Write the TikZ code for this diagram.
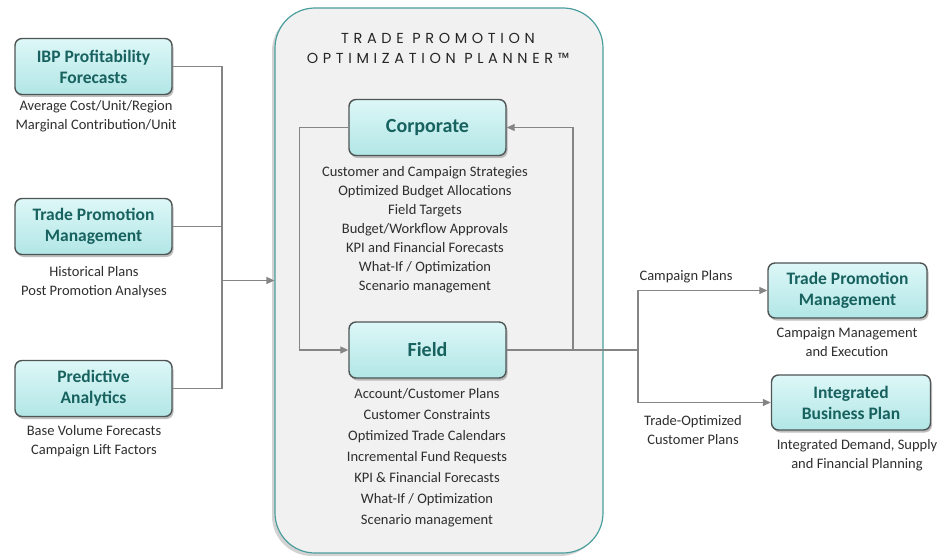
\documentclass[tikz,border=0pt]{standalone}
\usepackage{fontspec}
\setmainfont{Carlito}
\newfontfamily\titlefont[LetterSpace=32]{Poppins}
\usetikzlibrary{shadows,arrows.meta}
\definecolor{linegray}{HTML}{858585}
\definecolor{boxedge}{HTML}{4F5555}
\definecolor{boxtop}{HTML}{DDF7F7}
\definecolor{boxbot}{HTML}{B2E6E6}
\definecolor{boxtext}{HTML}{17625F}
\definecolor{captext}{HTML}{2E2E2E}
\definecolor{panelfill}{HTML}{F1F1F1}
\definecolor{panelline}{HTML}{4A9E9E}
\begin{document}
\begin{tikzpicture}[x=1pt,y=-1pt,
  conn/.style={draw=linegray, line width=1.3pt},
  arr/.style={-{Triangle[length=8pt,width=7pt]}},
  sysbox/.style={rounded corners=7pt, draw=boxedge, line width=1.4pt,
    top color=boxtop, bottom color=boxbot,
    minimum width=157pt, minimum height=56pt, align=center, inner sep=0pt,
    text=boxtext, font=\fontsize{17.5}{21}\selectfont\bfseries,
    drop shadow={shadow xshift=1.5pt, shadow yshift=-2.5pt, opacity=0.5}},
  corebox/.style={sysbox, font=\fontsize{20}{24}\selectfont\bfseries},
  caption/.style={align=center, inner sep=0pt, text=captext,
    font=\fontsize{14.5}{19}\selectfont},
  panelbox/.style={rounded corners=40pt, fill=panelfill, draw=panelline,
    line width=1.2pt, minimum width=328pt, minimum height=545pt,
    drop shadow={shadow xshift=-3pt, shadow yshift=-3pt, opacity=0.35}}
]
\useasboundingbox (0,0) rectangle (940,559);

% central planner panel
\node[panelbox] (panel) at (439,280.5) {};
\node[align=center, inner sep=0pt, font=\titlefont\fontsize{14.5}{20}\selectfont, text=black!85]
  (title) at (438,48) {TRADE PROMOTION\\OPTIMIZATION PLANNER™};

% junction points
\coordinate (jl) at (222,280.5);
\coordinate (jr) at (573,350);
\coordinate (jo) at (638,350);

% input systems
\node[sysbox] (ibp) at (93.5,66.5) {IBP Profitability\\Forecasts};
\node[sysbox] (tpm) at (93.5,226.5) {Trade Promotion\\Management};
\node[sysbox] (pa)  at (93.5,388.5) {Predictive\\Analytics};

\node[caption] (ibpc) at (96,116.5) {Average Cost/Unit/Region\\Marginal Contribution/Unit};
\node[caption] (tpmc) at (94,282.5) {Historical Plans\\Post Promotion Analyses};
\node[caption] (pac)  at (94,441) {Base Volume Forecasts\\Campaign Lift Factors};

% planner levels
\node[corebox] (corp)  at (427.5,127.5) {Corporate};
\node[corebox] (field) at (427.5,350) {Field};

\node[caption] (corpc) at (425,230) {Customer and Campaign Strategies\\Optimized Budget Allocations\\Field Targets\\Budget/Workflow Approvals\\KPI and Financial Forecasts\\What-If / Optimization\\Scenario management};
\node[caption, font=\fontsize{14.5}{21}\selectfont] (fieldc) at (427,458) {Account/Customer Plans\\Customer Constraints\\Optimized Trade Calendars\\Incremental Fund Requests\\KPI \& Financial Forecasts\\What-If / Optimization\\Scenario management};

% output systems
\node[sysbox, minimum width=159pt, minimum height=55pt] (rtpm) at (847.5,290.5) {Trade Promotion\\Management};
\node[sysbox, minimum width=159pt, minimum height=55pt] (ribp) at (851,402.5) {Integrated\\Business Plan};

\node[caption] (rtpmc) at (847,342) {Campaign Management\\and Execution};
\node[caption] (ribpc) at (857,455) {Integrated Demand, Supply\\and Financial Planning};

\node[caption] (cplab) at (686,277) {Campaign Plans};
\node[caption] (toplab) at (693,430) {Trade-Optimized\\Customer Plans};

% inputs feeding the planner
\draw[conn] (ibp.east) -| (jl) |- (pa.east);
\draw[conn] (tpm.east) -- (tpm.east -| jl);
\draw[conn,arr] (jl) -- (panel.west);

% corporate / field loop
\draw[conn,arr] (corp.west) -- ++(-49,0) |- (field.west);
\draw[conn,arr] (field.east) -- (jr) |- (corp.east);

% outputs
\draw[conn] (jr) -- (jo);
\draw[conn,arr] (jo) |- (rtpm.west);
\draw[conn,arr] (jo) |- (ribp.west);
\end{tikzpicture}
\end{document}
